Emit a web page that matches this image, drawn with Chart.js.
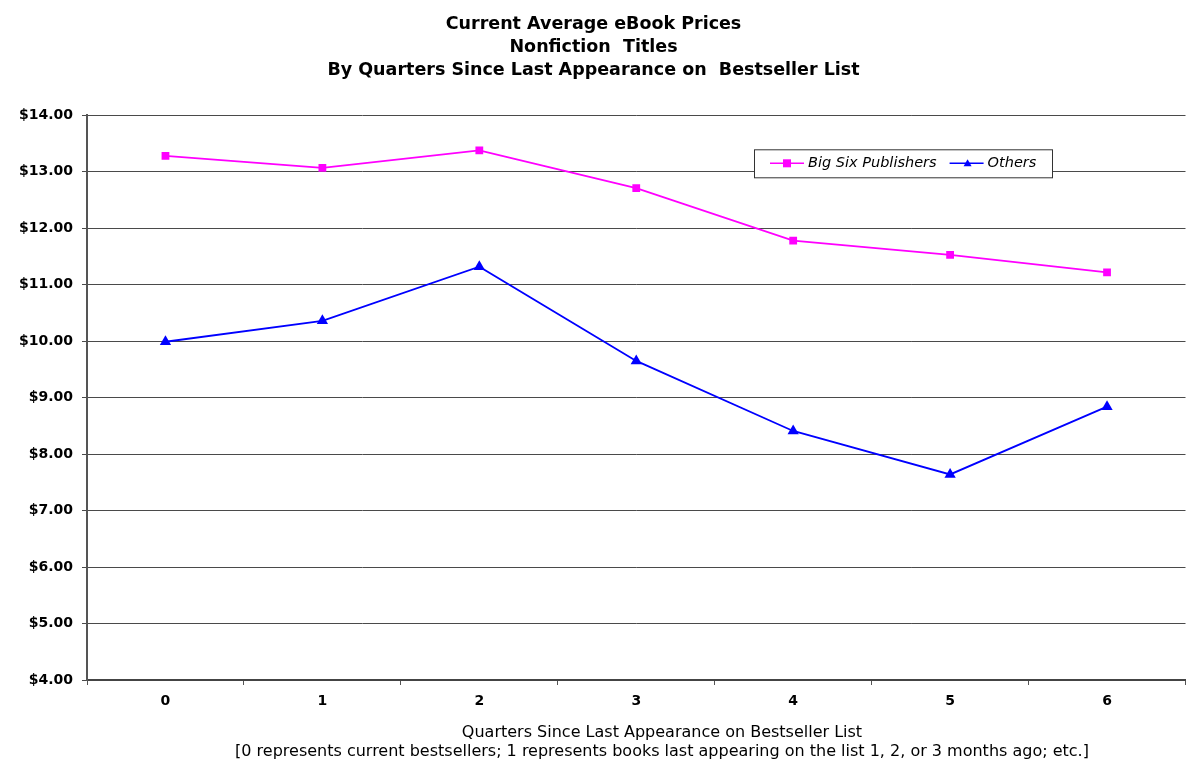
<!DOCTYPE html>
<html>
<head>
<meta charset="utf-8">
<script src="https://cdn.jsdelivr.net/npm/chart.js@4/dist/chart.umd.min.js"></script>
<style>
  body { margin: 0; background: #fff; }
  canvas { display: block; }
</style>
</head>
<body>
<canvas id="priceChart" width="1192" height="771"></canvas>
<script>
const quarters = ["0", "1", "2", "3", "4", "5", "6"];
const bigSixPrices = [13.28, 13.07, 13.38, 12.71, 11.78, 11.53, 11.22];
const otherPrices = [9.99, 10.36, 11.32, 9.65, 8.41, 7.64, 8.84];
const titleLines = [
  "Current Average eBook Prices",
  "Nonfiction  Titles",
  "By Quarters Since Last Appearance on  Bestseller List"
];
const xTitleLines = [
  "Quarters Since Last Appearance on Bestseller List",
  "[0 represents current bestsellers; 1 represents books last appearing on the list 1, 2, or 3 months ago; etc.]"
];

const FONT = "'DejaVu Sans', Verdana, sans-serif";

// legend box sits inside the plot, top right, like the old Excel chart
const insideLegend = {
  id: "insideLegend",
  afterDatasetsDraw(chart) {
    const { ctx, chartArea } = chart;
    const x = chartArea.left + 667;
    const y = chartArea.top + 34;
    const w = 298;
    const h = 28;
    ctx.save();
    ctx.fillStyle = "#fff";
    ctx.fillRect(x, y, w, h);
    ctx.strokeStyle = "#333";
    ctx.lineWidth = 1;
    ctx.strokeRect(x + 0.5, y + 0.5, w, h);
    ctx.font = "italic 14.5px " + FONT;
    ctx.textBaseline = "middle";
    const cy = y + h / 2;
    let cx = x + 16;
    chart.data.datasets.forEach((ds) => {
      ctx.strokeStyle = ds.borderColor;
      ctx.lineWidth = 1.5;
      ctx.beginPath();
      ctx.moveTo(cx, cy);
      ctx.lineTo(cx + 34, cy);
      ctx.stroke();
      ctx.fillStyle = ds.backgroundColor;
      if (ds.pointStyle === "rect") {
        ctx.fillRect(cx + 13, cy - 4, 8, 8);
      } else {
        ctx.beginPath();
        ctx.moveTo(cx + 18, cy - 4);
        ctx.lineTo(cx + 22, cy + 3);
        ctx.lineTo(cx + 14, cy + 3);
        ctx.closePath();
        ctx.fill();
      }
      ctx.fillStyle = "#000";
      ctx.fillText(ds.label, cx + 38, cy);
      cx += 38 + ctx.measureText(ds.label).width + 13;
    });
    ctx.restore();
  }
};

// the axis title in the original sits a little right of the plot centre
const axisCaption = {
  id: "axisCaption",
  afterDraw(chart) {
    const { ctx, chartArea } = chart;
    ctx.save();
    ctx.font = "16px " + FONT;
    ctx.fillStyle = "#000";
    ctx.textAlign = "center";
    ctx.textBaseline = "middle";
    const cx = chartArea.left + 575;
    xTitleLines.forEach((line, i) => {
      ctx.fillText(line, cx, chartArea.bottom + 53 + i * 19);
    });
    ctx.restore();
  }
};

new Chart(document.getElementById("priceChart"), {
  type: "line",
  data: {
    labels: quarters,
    datasets: [
      {
        label: "Big Six Publishers",
        data: bigSixPrices,
        borderColor: "#ff00ff",
        backgroundColor: "#ff00ff",
        borderWidth: 1.8,
        pointStyle: "rect",
        pointRadius: 5.5,
        pointBorderWidth: 0,
        tension: 0
      },
      {
        label: "Others",
        data: otherPrices,
        borderColor: "#0000ff",
        backgroundColor: "#0000ff",
        borderWidth: 1.8,
        pointStyle: "triangle",
        pointRadius: 6.5,
        pointBorderWidth: 0,
        tension: 0
      }
    ]
  },
  options: {
    responsive: false,
    devicePixelRatio: 1,
    animation: false,
    layout: { padding: { left: 0, right: 5, top: 0, bottom: 0 } },
    plugins: {
      legend: { display: false },
      tooltip: { enabled: false },
      title: {
        display: true,
        text: titleLines,
        color: "#000",
        font: { family: FONT, size: 17.5, weight: "bold", lineHeight: 1.32 },
        padding: { top: 13, bottom: 33 }
      }
    },
    scales: {
      x: {
        offset: true,
        afterFit(scale) { scale.height = 91; },
        grid: {
          offset: true,
          drawOnChartArea: false,
          color: "#555",
          tickLength: 5
        },
        border: { color: "#444", width: 2 },
        ticks: {
          color: "#000",
          font: { family: FONT, size: 14, weight: "bold" },
          padding: 8
        }
      },
      y: {
        min: 4,
        max: 14,
        afterFit(scale) { scale.width = 87; },
        grid: { color: "#4a4a4a", lineWidth: 1, tickLength: 5 },
        border: { color: "#555", width: 2 },
        ticks: {
          stepSize: 1,
          color: "#000",
          padding: 9,
          font: { family: FONT, size: 14, weight: "bold" },
          callback: (v) => "$" + Number(v).toFixed(2)
        }
      }
    }
  },
  plugins: [insideLegend, axisCaption]
});
</script>
</body>
</html>
